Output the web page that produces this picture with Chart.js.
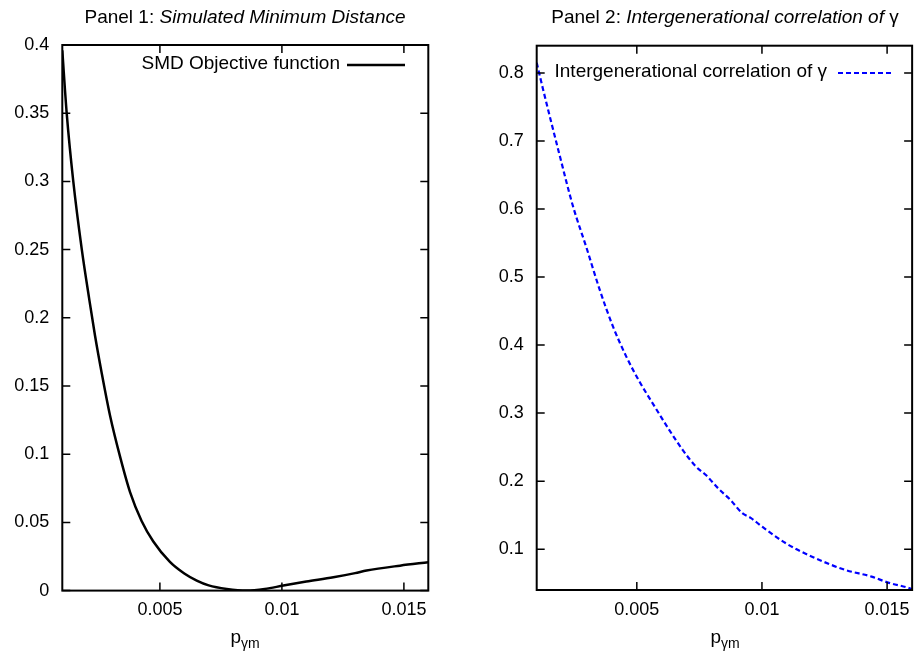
<!DOCTYPE html>
<html><head><meta charset="utf-8">
<script src="https://cdn.jsdelivr.net/npm/chart.js@4.4.0/dist/chart.umd.min.js"></script>
<style>
html,body{margin:0;padding:0;background:#fff;}
body{width:919px;height:657px;position:relative;overflow:hidden;font-family:"Liberation Sans",Arial,sans-serif;color:#000;}
canvas{position:absolute;top:0;}
#c1{left:0;} #c2{left:460px;}
.title{position:absolute;top:6px;font-size:19px;line-height:22px;text-align:center;white-space:nowrap;}
.xlab{position:absolute;top:626px;font-size:19px;line-height:22px;text-align:center;white-space:nowrap;}
.xlab sub{font-size:14px;vertical-align:-5px;line-height:0;}
</style></head><body>
<canvas id="c1" width="460" height="657"></canvas>
<canvas id="c2" width="459" height="657"></canvas>
<div class="title" style="left:62px;width:366px">Panel 1: <i>Simulated Minimum Distance</i></div>
<div class="title" style="left:537px;width:376px">Panel 2: <i>Intergenerational correlation of</i> γ</div>
<div class="xlab" style="left:62px;width:366px">p<sub>γm</sub></div>
<div class="xlab" style="left:537px;width:376px">p<sub>γm</sub></div>
<script>
// ---- data ----
const pgm1 = [0.001, 0.00118, 0.00145, 0.0018, 0.00211, 0.00234, 0.00262, 0.00296, 0.00337, 0.00378, 0.00425, 0.00473, 0.00541, 0.006, 0.00651, 0.007, 0.00774, 0.00856, 0.0093, 0.01006, 0.011, 0.01211, 0.013, 0.01347, 0.01484, 0.016];
const smd = [0.396, 0.35, 0.30, 0.25, 0.213, 0.187, 0.159, 0.128, 0.098, 0.072, 0.051, 0.036, 0.021, 0.0125, 0.0073, 0.0038, 0.0012, 0.0, 0.0012, 0.0037, 0.0066, 0.0098, 0.0128, 0.0147, 0.0183, 0.0208];
const pgm2 = [0.001, 0.00126, 0.00193, 0.00245, 0.00299, 0.00352, 0.00405, 0.00458, 0.00511, 0.00564, 0.0063, 0.00683, 0.00736, 0.00776, 0.00829, 0.00875, 0.00921, 0.00955, 0.01001, 0.01094, 0.012, 0.01332, 0.01438, 0.01504, 0.0159, 0.016];
const corr = [0.815, 0.775, 0.677, 0.604, 0.543, 0.481, 0.427, 0.383, 0.346, 0.314, 0.275, 0.246, 0.2215, 0.209, 0.188, 0.172, 0.153, 0.146, 0.133, 0.109, 0.089, 0.0696, 0.0597, 0.0509, 0.0426, 0.041];
const xTicks = [0.005, 0.01, 0.015];
const xTickLabels = ["0.005", "0.01", "0.015"];
const yTicks1 = [0, 0.05, 0.1, 0.15, 0.2, 0.25, 0.3, 0.35, 0.4];
const yTickLabels1 = ["0", "0.05", "0.1", "0.15", "0.2", "0.25", "0.3", "0.35", "0.4"];
const yTicks2 = [0.1, 0.2, 0.3, 0.4, 0.5, 0.6, 0.7, 0.8];
const yTickLabels2 = ["0.1", "0.2", "0.3", "0.4", "0.5", "0.6", "0.7", "0.8"];
const label1 = "SMD Objective function";
const label2 = "Intergenerational correlation of γ";

const FONT = '"Liberation Sans", Arial, sans-serif';

const framePlugin = {
  id: 'frame',
  afterDatasetsDraw(chart) {
    const {ctx, chartArea: {left, right, top, bottom}, scales: {x, y}} = chart;
    ctx.save();
    ctx.strokeStyle = '#000';
    ctx.lineWidth = 1.5;
    const L = 8;
    ctx.beginPath();
    x.ticks.forEach(t => {
      const px = x.getPixelForValue(t.value);
      ctx.moveTo(px, bottom); ctx.lineTo(px, bottom - L);
      ctx.moveTo(px, top); ctx.lineTo(px, top + L);
    });
    y.ticks.forEach(t => {
      const py = y.getPixelForValue(t.value);
      ctx.moveTo(left, py); ctx.lineTo(left + L, py);
      ctx.moveTo(right, py); ctx.lineTo(right - L, py);
    });
    ctx.stroke();
    ctx.lineWidth = 2;
    ctx.strokeRect(left, top, right - left, bottom - top);
    // legend (gnuplot style: text then sample)
    const o = chart.options.plugins.gLegend;
    const ds = chart.data.datasets[0];
    ctx.font = '19px ' + FONT;
    ctx.fillStyle = '#000';
    ctx.textAlign = 'right';
    ctx.textBaseline = 'middle';
    ctx.fillText(ds.label, o.textRight, o.y);
    ctx.strokeStyle = ds.borderColor;
    ctx.lineWidth = ds.borderWidth;
    ctx.setLineDash(ds.borderDash || []);
    ctx.beginPath();
    ctx.moveTo(o.x0, o.y + 1); ctx.lineTo(o.x1, o.y + 1);
    ctx.stroke();
    ctx.restore();
  }
};

function makeChart(id, xs, ys, label, color, dash, width, yMin, yMax, yT, yTL, pad, yW, xH, leg) {
  return new Chart(document.getElementById(id), {
    type: 'line',
    data: {
      datasets: [{
        label: label,
        data: xs.map((v, i) => ({x: v, y: ys[i]})),
        borderColor: color,
        borderWidth: width,
        borderDash: dash,
        pointRadius: 0,
        fill: false,
        cubicInterpolationMode: 'monotone'
      }]
    },
    options: {
      responsive: false,
      animation: false,
      layout: {padding: pad},
      plugins: {legend: {display: false}, tooltip: {enabled: false}, title: {display: false}, gLegend: leg},
      scales: {
        x: {
          type: 'linear', min: 0.001, max: 0.016,
          grid: {display: false, drawTicks: false},
          border: {display: false},
          afterBuildTicks: s => { s.ticks = xTicks.map(v => ({value: v})); },
          afterFit: s => { s.height = xH; },
          ticks: {
            font: {size: 18, family: FONT}, color: '#000', padding: 9, maxRotation: 0,
            callback: (v) => { const i = xTicks.indexOf(v); return i >= 0 ? xTickLabels[i] : ''; }
          }
        },
        y: {
          type: 'linear', min: yMin, max: yMax,
          grid: {display: false, drawTicks: false},
          border: {display: false},
          afterBuildTicks: s => { s.ticks = yT.map(v => ({value: v})); },
          afterFit: s => { s.width = yW; },
          ticks: {
            font: {size: 18, family: FONT}, color: '#000', padding: 13,
            callback: (v) => { const i = yT.indexOf(v); return i >= 0 ? yTL[i] : ''; }
          }
        }
      }
    },
    plugins: [framePlugin]
  });
}

makeChart('c1', pgm1, smd, label1, '#000000', [], 2.5, 0, 0.4, yTicks1, yTickLabels1,
  {left: 0, top: 45, right: 31.7, bottom: 0}, 62.3, 66.4,
  {textRight: 340, y: 64, x0: 347, x1: 405});
makeChart('c2', pgm2, corr, label2, '#0000ff', [5, 3], 2.2, 0.04, 0.84, yTicks2, yTickLabels2,
  {left: 0, top: 45.7, right: 5.7, bottom: 0}, 76.7, 67,
  {textRight: 367, y: 72, x0: 378, x1: 432});
</script>
</body></html>
